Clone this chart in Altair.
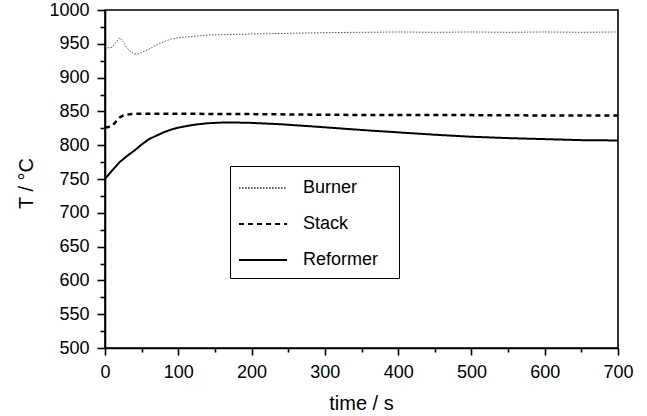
import altair as alt
import pandas as pd

# Temperature histories of the three units during the start-up transient
burner_time = [0, 5, 10, 15, 20, 25, 30, 35, 40, 45, 50, 60, 70, 80, 90, 100,
               120, 140, 160, 180, 200, 250, 300, 350, 400, 450, 500, 550,
               600, 650, 700]
burner_temp = [946, 944, 945, 952, 959, 953, 944, 938, 935, 935, 937, 942,
               948, 953, 957, 959, 961, 963, 963.5, 964, 964.5, 965.5, 966.5,
               967, 967.5, 967, 967.5, 967, 967.5, 967, 967.5]

stack_time = [0, 5, 10, 15, 20, 25, 30, 40, 60, 100, 200, 300, 400, 500, 600, 700]
stack_temp = [826, 827, 829, 835, 841, 844, 845.5, 846.5, 846.5, 846.5, 846,
              845, 844.5, 844.5, 844, 844]

reformer_time = [0, 10, 20, 30, 40, 50, 60, 70, 80, 90, 100, 120, 140, 160,
                 180, 200, 220, 240, 260, 280, 300, 350, 400, 450, 500, 550,
                 600, 650, 700]
reformer_temp = [750, 763, 775, 784, 792, 801, 809, 814, 819, 823, 826, 830,
                 832.5, 833.5, 833.5, 833, 832, 831, 829.5, 828, 826.5, 822.5,
                 819, 815.5, 812.5, 810.5, 809, 807.5, 807]

series_names = ["Burner", "Stack", "Reformer"]
series_colors = ["#555555", "black", "black"]
series_dashes = [[1.5, 1.5], [5, 4], [1, 0]]
series_widths = [1, 2.5, 2]

df = pd.concat([
    pd.DataFrame({"time": burner_time, "temp": burner_temp, "series": "Burner"}),
    pd.DataFrame({"time": stack_time, "temp": stack_temp, "series": "Stack"}),
    pd.DataFrame({"time": reformer_time, "temp": reformer_temp, "series": "Reformer"}),
], ignore_index=True)

FONT = "Liberation Sans"

x_axis = alt.Axis(
    values=list(range(0, 701, 50)),
    format="d",
    labelExpr="datum.value % 100 === 0 ? datum.label : ''",
    tickSize={"condition": {"test": "datum.value % 100 === 0", "value": 7}, "value": 4},
    labelOverlap=False,
    labelFlush=False,
    labelPadding=8,
    title="time / s",
    titleBaseline="alphabetic",
    titleY=61,
    titleX=256,
)
y_axis = alt.Axis(
    values=list(range(500, 1001, 25)),
    format="d",
    labelExpr="datum.value % 50 === 0 ? datum.label : ''",
    tickSize={"condition": {"test": "datum.value % 50 === 0", "value": 8}, "value": 5},
    labelOverlap=False,
    labelFlush=False,
    labelPadding=8,
    title="T / °C",
    titleBaseline="alphabetic",
    titleAngle=-90,
    titleX=-73,
    titleY=173,
)

base = alt.Chart(df).encode(
    x=alt.X("time:Q", scale=alt.Scale(domain=[0, 700], nice=False, zero=False), axis=x_axis),
    y=alt.Y("temp:Q", scale=alt.Scale(domain=[500, 1000], nice=False, zero=False), axis=y_axis),
    color=alt.Color("series:N", title=None,
                    scale=alt.Scale(domain=series_names, range=series_colors)),
    strokeDash=alt.StrokeDash("series:N", title=None,
                              scale=alt.Scale(domain=series_names, range=series_dashes)),
)

# one layer per unit so each line keeps its own stroke width
layers = [
    base.transform_filter(alt.datum.series == name).mark_line(
        strokeWidth=w, strokeCap="butt", strokeJoin="round")
    for name, w in zip(series_names, series_widths)
]

chart = alt.layer(*layers).properties(
    width=513,
    height=338,
    autosize=alt.AutoSizeParams(type="none"),
    padding={"left": 105, "top": 10, "right": 29, "bottom": 68},
).configure_view(
    stroke="black",
    strokeWidth=1.6,
).configure_axis(
    domainColor="black",
    domainWidth=1.6,
    tickColor="black",
    tickWidth=1.6,
    grid=False,
    labelFont=FONT,
    labelFontSize=18,
    labelColor="black",
    titleFont=FONT,
    titleFontSize=20,
    titleFontWeight="normal",
    titleColor="black",
).configure_legend(
    orient="none",
    legendX=125,
    legendY=156,
    direction="vertical",
    padding=9,
    strokeColor="black",
    fillColor="white",
    # short horizontal stroke; the trailing move widens the box on the right
    symbolType="M-1.08,0H2.92M11.1,0",
    symbolSize=576,
    symbolStrokeWidth=2,
    labelFont=FONT,
    labelFontSize=18,
    labelColor="black",
    labelOffset=38,
    rowPadding=14,
)

chart.save("out.html", embed_options={"renderer": "svg", "actions": False})
